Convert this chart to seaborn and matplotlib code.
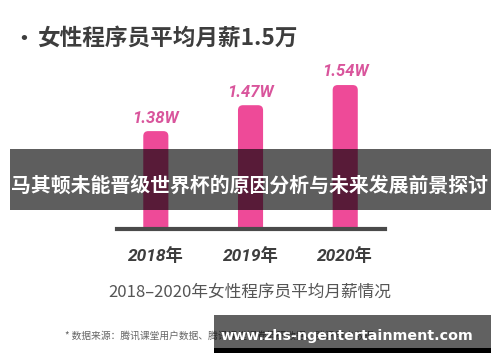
import matplotlib
matplotlib.use("Agg")
import matplotlib.pyplot as plt
from matplotlib.patches import FancyBboxPatch, Rectangle
import seaborn as sns
import pandas as pd

years = ["2018年", "2019年", "2020年"]
salary = [1.38, 1.47, 1.54]
value_labels = ["1.38W", "1.47W", "1.54W"]
title = "女性程序员平均月薪1.5万"
subtitle = "2018–2020年女性程序员平均月薪情况"
banner = "马其顿未能晋级世界杯的原因分析与未来发展前景探讨"
source = "* 数据来源：腾讯课堂用户数据、腾讯课堂问卷调研数据、腾讯用户数据"
watermark = "www.zhs-ngentertainment.com"

sns.set_theme(style="white")
plt.rcParams["font.family"] = ["Noto Sans CJK SC", "DejaVu Sans"]

df = pd.DataFrame({"year": years, "salary": salary})

fig = plt.figure(figsize=(5, 3.62), dpi=100)
fig.patch.set_facecolor("white")
ax = fig.add_axes([0.234, 133 / 362, 0.536, 169 / 362])

pink = "#ee4a98"
sns.barplot(data=df, x="year", y="salary", color=pink, width=0.265,
            saturation=1, ax=ax, zorder=2)
ax.set_xlim(-0.41, 2.42)
ax.set_ylim(1.04, 1.627)

# rounded bar tops
fig.canvas.draw()
bbox = ax.get_window_extent()
xpx = bbox.width / (ax.get_xlim()[1] - ax.get_xlim()[0])
ypx = bbox.height / (ax.get_ylim()[1] - ax.get_ylim()[0])
aspect = xpx / ypx
for p in list(ax.patches):
    x, w, h = p.get_x(), p.get_width(), p.get_height()
    rb = FancyBboxPatch((x, 0), w, h, boxstyle="round,pad=0,rounding_size=%f" % (5 / xpx),
                        mutation_aspect=aspect, facecolor=pink, edgecolor="none", zorder=2)
    p.remove()
    ax.add_patch(rb)

for i, (v, lab) in enumerate(zip(salary, value_labels)):
    ax.annotate(lab, (i, v), xytext=(0, 4), textcoords="offset points",
                ha="center", va="bottom", color="#d9559c", fontsize=12,
                style="italic", fontweight="bold", family=["Roboto", "DejaVu Sans"])

for s in ["top", "right", "left"]:
    ax.spines[s].set_visible(False)
ax.spines["bottom"].set_color("#4a4a4a")
ax.spines["bottom"].set_linewidth(3)
ax.spines["bottom"].set_zorder(3)
ax.set_yticks([])
ax.set_xlabel("")
ax.set_ylabel("")
ax.tick_params(axis="x", length=0, pad=13)
for t in ax.get_xticklabels():
    t.set_fontsize(12.5)
    t.set_fontweight("bold")
    t.set_fontstyle("italic")
    t.set_color("#3d3d3d")
    t.set_family(["Roboto", "Noto Sans CJK SC", "DejaVu Sans"])

fig.text(24 / 500, 1 - 38 / 362, "•", fontsize=15, fontweight="bold",
         color="#3d3d3d", ha="center", va="center")
fig.text(37 / 500, 1 - 38 / 362, title, fontsize=16.3, fontweight="bold",
         color="#3d3d3d", ha="left", va="center")
fig.text(0.5, 1 - 292 / 362, subtitle, fontsize=12, color="#555555",
         ha="center", va="center")
fig.text(65 / 500, 1 - 336 / 362, source, fontsize=7, color="#666666",
         ha="left", va="center")

# overlay banner
fig.add_artist(Rectangle((10 / 500, 1 - 210 / 362), 481 / 500, 61 / 362,
                         transform=fig.transFigure, facecolor="black", alpha=0.63,
                         edgecolor="none", zorder=5))
fig.text(250 / 500, 1 - 185 / 362, banner, fontsize=14.3, fontweight="bold",
         color="white", ha="center", va="center", zorder=6)

# watermark box
fig.add_artist(Rectangle((214 / 500, 1 - 353 / 362), 277 / 500, 38 / 362,
                         transform=fig.transFigure, facecolor="black", alpha=0.62,
                         edgecolor="none", zorder=5))
fig.add_artist(Rectangle((214 / 500, 1 - 353 / 362), 277 / 500, 5 / 362,
                         transform=fig.transFigure, facecolor="black",
                         edgecolor="none", zorder=6))
fig.text(347 / 500, 1 - 336 / 362, watermark, fontsize=10.3, fontweight="bold",
         color="white", ha="center", va="center", zorder=7,
         family=["DejaVu Sans"])

fig.savefig("out.png", dpi=100, facecolor="white")
